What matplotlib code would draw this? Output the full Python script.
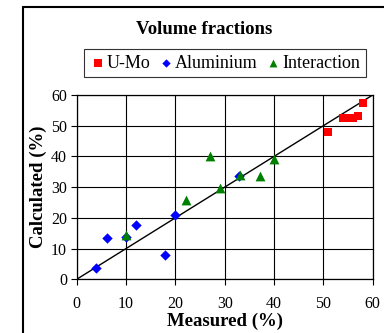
import matplotlib
matplotlib.use("Agg")
import matplotlib.pyplot as plt
from matplotlib.patches import Rectangle

plt.rcParams['font.family'] = ['Liberation Serif', 'DejaVu Serif']

# Measured vs calculated volume fractions (%)
umo_meas = [51, 54, 55, 56, 57, 58]
umo_calc = [47.8, 52.4, 52.4, 52.4, 53.2, 57.3]

al_meas = [4, 6.2, 10, 12, 18, 20, 33]
al_calc = [3.6, 13.6, 13.9, 17.6, 7.8, 20.9, 33.6]

int_meas = [10, 22.2, 27, 29, 33.2, 37.2, 40]
int_calc = [14.3, 25.8, 40.1, 29.8, 33.9, 33.6, 39.1]

ticks = [0, 10, 20, 30, 40, 50, 60]

fig = plt.figure(figsize=(3.84, 3.33), dpi=100)
ax = fig.add_axes([0.1997, 0.1613, 0.7709, 0.5534])

# frame line at the left and top of the chart area
fig.patches.append(Rectangle((23 / 384, -0.1), 1.2, 1 - 7 / 333 + 0.1,
                             transform=fig.transFigure, fill=False,
                             edgecolor='black', linewidth=1.5))

ax.grid(True, color='black', linewidth=0.8, zorder=0)
ax.plot([0, 60], [0, 60], color='black', linewidth=1.0, zorder=1)

ax.scatter(umo_meas, umo_calc, marker='s', s=40, color='#ff0000',
           label='U-Mo', zorder=3, linewidths=0)
ax.scatter(al_meas, al_calc, marker='D', s=28, color='#0000ff',
           label='Aluminium', zorder=3, linewidths=0)
ax.scatter(int_meas, int_calc, marker='^', s=50, color='#008000',
           label='Interaction', zorder=3, linewidths=0)

ax.set_xlim(0, 60)
ax.set_ylim(0, 60)
ax.set_xticks(ticks)
ax.set_yticks(ticks)
ax.tick_params(axis='x', direction='out', length=4, width=0.8, pad=8, labelsize=11.5)
ax.tick_params(axis='y', direction='out', length=4, width=0.8, pad=3, labelsize=11.5)
for sp in ax.spines.values():
    sp.set_linewidth(0.9)

fig.text(225 / 384, 1 - 321 / 333, 'Measured (%)', ha='center', va='center',
         fontsize=13.5, fontweight='bold')
fig.text(38 / 384, 1 - 187 / 333, 'Calculated (%)', ha='center', va='center',
         rotation=90, fontsize=13.5, fontweight='bold')

fig.text(0.531, 1 - 30 / 333, 'Volume fractions', ha='center', va='center',
         fontsize=13.5, fontweight='bold')

leg = fig.legend(loc='center', bbox_to_anchor=(225 / 384, 1 - 63 / 333),
                 ncol=3, fontsize=13, frameon=True, fancybox=False,
                 edgecolor='black', handletextpad=0.05, columnspacing=0.4,
                 handlelength=0.9, markerscale=0.8, borderpad=0.3)
leg.get_frame().set_linewidth(0.8)

fig.savefig('out.png', dpi=100)
